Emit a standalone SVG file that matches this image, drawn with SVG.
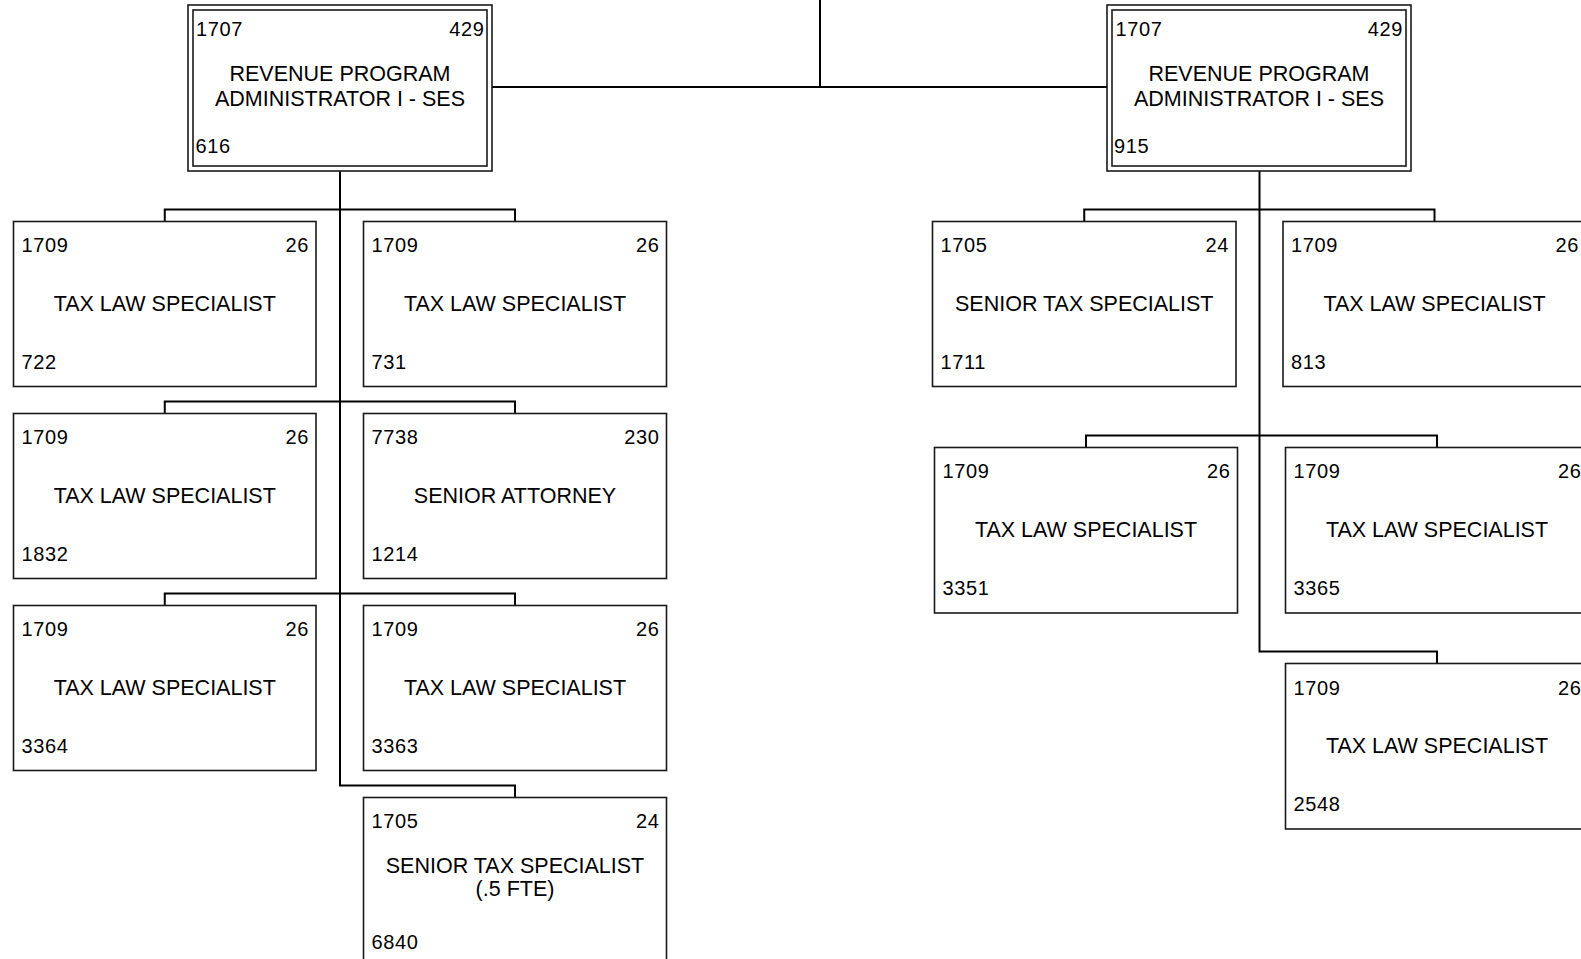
<svg xmlns="http://www.w3.org/2000/svg" width="1581" height="959" viewBox="0 0 1581 959">
  <style>
    text { font-family: "Liberation Sans", Arial, sans-serif; fill: #000; }
    .num { font-size: 20px; letter-spacing: 0.6px; }
    .end { text-anchor: end; }
    .title { font-size: 21.5px; text-anchor: middle; }
    .box { fill: #fff; stroke: #1a1a1a; stroke-width: 1.6; }
    .frame { fill: none; stroke: #1a1a1a; stroke-width: 1.6; }
    .link { fill: none; stroke: #000; stroke-width: 2; }
  </style>
  <rect width="1581" height="959" fill="#fff"/>

  <!-- reporting lines -->
  <g id="connectors">
    <path class="link" d="M820,0 V87 M492,87 H1107"/>
    <!-- left administrator -->
    <path class="link" d="M340,171 V785.5 H515 V797.5"/>
    <path class="link" d="M164.75,221.5 V209.5 H515 V221.5"/>
    <path class="link" d="M164.75,413.5 V401.5 H515 V413.5"/>
    <path class="link" d="M164.75,605.5 V593.5 H515 V605.5"/>
    <!-- right administrator -->
    <path class="link" d="M1259.5,171 V651.5 H1437 V663.5"/>
    <path class="link" d="M1084.25,221.5 V209.5 H1434.5 V221.5"/>
    <path class="link" d="M1086,447.5 V435.5 H1437 V447.5"/>
  </g>

  <!-- administrators -->
  <g id="admin-616">
    <rect class="box" x="188" y="5" width="304" height="166"/>
    <rect class="frame" x="193" y="10" width="294" height="156"/>
    <text class="num" x="196" y="36">1707</text>
    <text class="num end" x="484.5" y="36">429</text>
    <text class="title" x="340" y="81">REVENUE PROGRAM</text>
    <text class="title" x="340" y="106">ADMINISTRATOR I - SES</text>
    <text class="num" x="195.5" y="153">616</text>
  </g>
  <g id="admin-915">
    <rect class="box" x="1107" y="5" width="304" height="166"/>
    <rect class="frame" x="1112" y="10" width="294" height="156"/>
    <text class="num" x="1115.5" y="36">1707</text>
    <text class="num end" x="1403" y="36">429</text>
    <text class="title" x="1259" y="81">REVENUE PROGRAM</text>
    <text class="title" x="1259" y="106">ADMINISTRATOR I - SES</text>
    <text class="num" x="1114" y="153">915</text>
  </g>

  <!-- staff under position 616 -->
  <g id="pos-722">
    <rect class="box" x="13.5" y="221.5" width="302.5" height="165"/>
    <text class="num" x="21.5" y="252">1709</text>
    <text class="num end" x="309" y="252">26</text>
    <text class="title" x="164.75" y="310.5">TAX LAW SPECIALIST</text>
    <text class="num" x="21.5" y="369">722</text>
  </g>
  <g id="pos-731">
    <rect class="box" x="363.5" y="221.5" width="303" height="165"/>
    <text class="num" x="371.5" y="252">1709</text>
    <text class="num end" x="659.5" y="252">26</text>
    <text class="title" x="515" y="310.5">TAX LAW SPECIALIST</text>
    <text class="num" x="371.5" y="369">731</text>
  </g>
  <g id="pos-1832">
    <rect class="box" x="13.5" y="413.5" width="302.5" height="165"/>
    <text class="num" x="21.5" y="444">1709</text>
    <text class="num end" x="309" y="444">26</text>
    <text class="title" x="164.75" y="502.5">TAX LAW SPECIALIST</text>
    <text class="num" x="21.5" y="561">1832</text>
  </g>
  <g id="pos-1214">
    <rect class="box" x="363.5" y="413.5" width="303" height="165"/>
    <text class="num" x="371.5" y="444">7738</text>
    <text class="num end" x="659.5" y="444">230</text>
    <text class="title" x="515" y="502.5">SENIOR ATTORNEY</text>
    <text class="num" x="371.5" y="561">1214</text>
  </g>
  <g id="pos-3364">
    <rect class="box" x="13.5" y="605.5" width="302.5" height="165"/>
    <text class="num" x="21.5" y="636">1709</text>
    <text class="num end" x="309" y="636">26</text>
    <text class="title" x="164.75" y="694.5">TAX LAW SPECIALIST</text>
    <text class="num" x="21.5" y="753">3364</text>
  </g>
  <g id="pos-3363">
    <rect class="box" x="363.5" y="605.5" width="303" height="165"/>
    <text class="num" x="371.5" y="636">1709</text>
    <text class="num end" x="659.5" y="636">26</text>
    <text class="title" x="515" y="694.5">TAX LAW SPECIALIST</text>
    <text class="num" x="371.5" y="753">3363</text>
  </g>
  <g id="pos-6840">
    <rect class="box" x="363.5" y="797.5" width="303" height="165"/>
    <text class="num" x="371.5" y="828">1705</text>
    <text class="num end" x="659.5" y="828">24</text>
    <text class="title" x="515" y="872.5">SENIOR TAX SPECIALIST</text>
    <text class="title" x="515" y="896">(.5 FTE)</text>
    <text class="num" x="371.5" y="948.5">6840</text>
  </g>

  <!-- staff under position 915 -->
  <g id="pos-1711">
    <rect class="box" x="932.5" y="221.5" width="303.5" height="165"/>
    <text class="num" x="940.5" y="252">1705</text>
    <text class="num end" x="1229" y="252">24</text>
    <text class="title" x="1084.25" y="310.5">SENIOR TAX SPECIALIST</text>
    <text class="num" x="940.5" y="369">1711</text>
  </g>
  <g id="pos-813">
    <rect class="box" x="1283" y="221.5" width="303" height="165"/>
    <text class="num" x="1291" y="252">1709</text>
    <text class="num end" x="1579" y="252">26</text>
    <text class="title" x="1434.5" y="310.5">TAX LAW SPECIALIST</text>
    <text class="num" x="1291" y="369">813</text>
  </g>
  <g id="pos-3351">
    <rect class="box" x="934.5" y="447.5" width="303" height="165.5"/>
    <text class="num" x="942.5" y="478">1709</text>
    <text class="num end" x="1230.5" y="478">26</text>
    <text class="title" x="1086" y="536.5">TAX LAW SPECIALIST</text>
    <text class="num" x="942.5" y="595">3351</text>
  </g>
  <g id="pos-3365">
    <rect class="box" x="1285.5" y="447.5" width="303" height="165.5"/>
    <text class="num" x="1293.5" y="478">1709</text>
    <text class="num end" x="1581.5" y="478">26</text>
    <text class="title" x="1437" y="536.5">TAX LAW SPECIALIST</text>
    <text class="num" x="1293.5" y="595">3365</text>
  </g>
  <g id="pos-2548">
    <rect class="box" x="1285.5" y="663.5" width="303" height="165.5"/>
    <text class="num" x="1293.5" y="695">1709</text>
    <text class="num end" x="1581.5" y="695">26</text>
    <text class="title" x="1437" y="752.5">TAX LAW SPECIALIST</text>
    <text class="num" x="1293.5" y="811">2548</text>
  </g>
</svg>
